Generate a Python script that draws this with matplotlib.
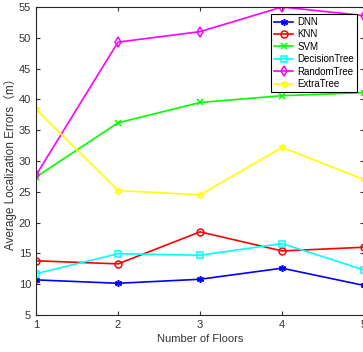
import matplotlib
matplotlib.use('Agg')
import matplotlib.pyplot as plt

plt.rcParams['font.family'] = ['Liberation Sans', 'Noto Sans CJK SC', 'DejaVu Sans']

floors = [1, 2, 3, 4, 5]
dnn = [10.7, 10.15, 10.8, 12.6, 9.8]
knn = [13.8, 13.3, 18.5, 15.4, 16.0]
svm = [27.4, 36.2, 39.5, 40.6, 41.1]
decision_tree = [11.7, 14.95, 14.7, 16.6, 12.3]
random_tree = [27.7, 49.3, 51.0, 55.0, 53.6]
extra_tree = [38.4, 25.2, 24.5, 32.2, 27.0]

series = [
    ('DNN', dnn, '#0000ff', (6, 2, 0)),
    ('KNN', knn, '#ff0000', 'o'),
    ('SVM', svm, '#00ff00', 'x'),
    ('DecisionTree', decision_tree, '#00ffff', 's'),
    ('RandomTree', random_tree, '#ff00ff', 'd'),
    ('ExtraTree', extra_tree, '#ffff00', (6, 1, 0)),
]

fig = plt.figure(figsize=(3.63, 3.52), dpi=100)
ax = fig.add_axes([36 / 363, 37 / 352, 328 / 363, 308 / 352])

for name, vals, col, mk in series:
    filled = mk in [(6, 2, 0), 'x']
    ax.plot(floors, vals, color=col, lw=1.2, marker=mk, ms=5, mew=1.1,
            mfc=col if filled else 'none', label=name)

ax.set_xlim(1, 5)
ax.set_ylim(5, 55)
ax.set_xticks(floors)
ax.set_yticks(range(5, 56, 5))
ax.tick_params(direction='in', top=True, right=True, labelsize=8,
               colors='#333333', length=3)
for s in ax.spines.values():
    s.set_color('#262626')
    s.set_linewidth(0.8)

ax.set_xlabel('Number of Floors', fontsize=8, color='#333333', labelpad=3)
ax.set_ylabel('Average Localization Errors（m）', fontsize=8.5, color='#333333',
              labelpad=1)

leg = ax.legend(loc='upper right', bbox_to_anchor=(357 / 363, 1 - 14 / 352),
                bbox_transform=fig.transFigure, borderaxespad=0, fontsize=7,
                fancybox=False, edgecolor='black', framealpha=1,
                handlelength=2.0, labelspacing=0.25, borderpad=0.3,
                handletextpad=0.4)
leg.get_frame().set_linewidth(0.8)

fig.savefig('out.png', dpi=100)
